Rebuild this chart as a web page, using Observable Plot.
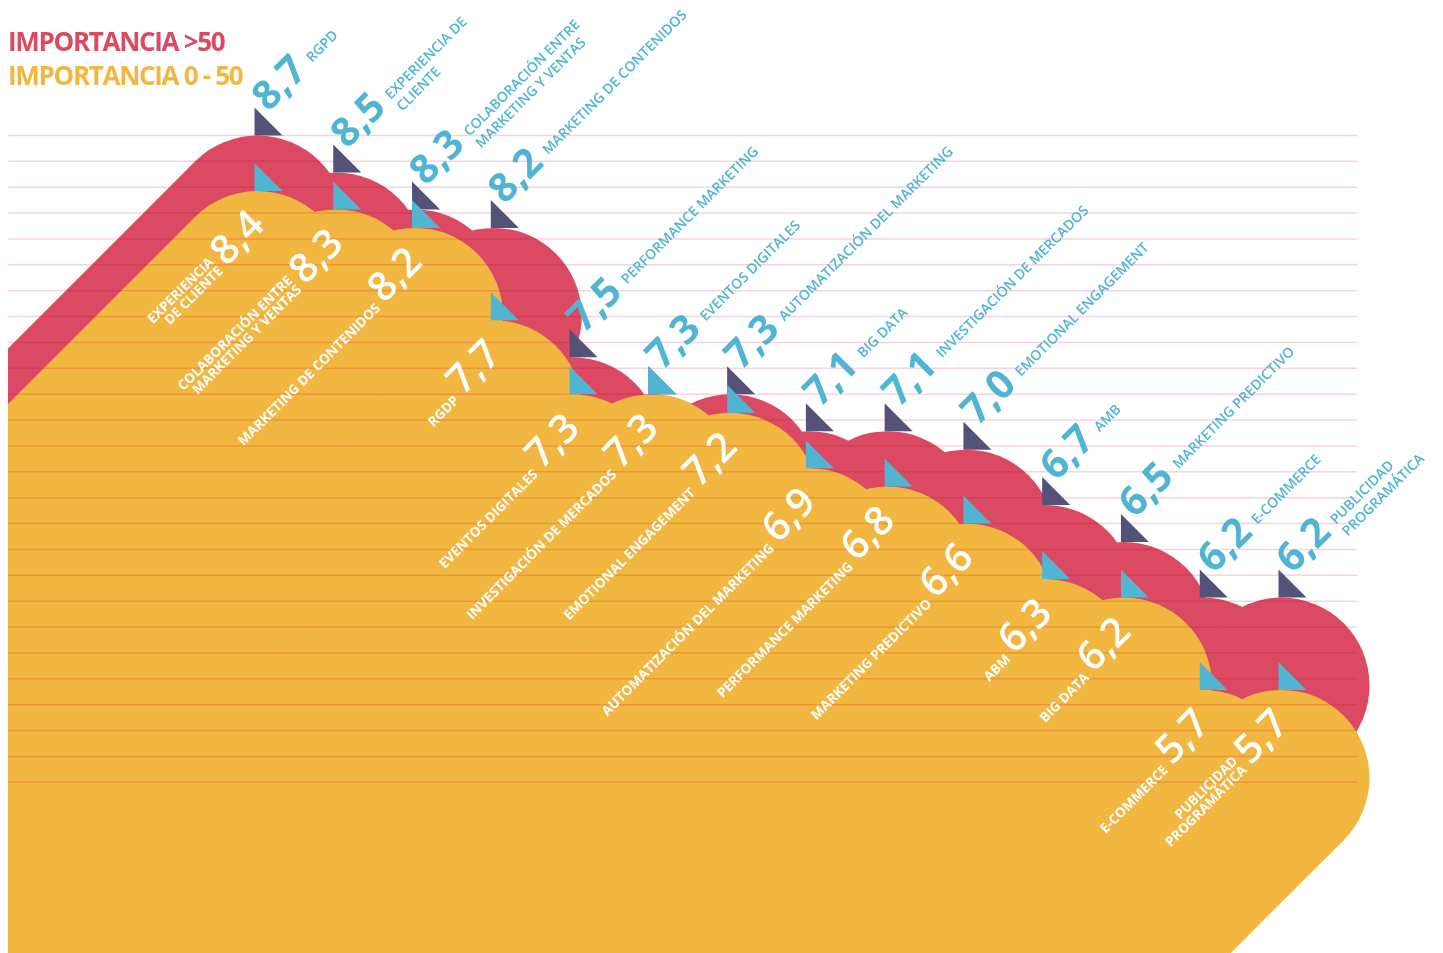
<!DOCTYPE html>
<html><head><meta charset="utf-8">
<script src="https://cdn.jsdelivr.net/npm/d3@7"></script>
<script src="https://cdn.jsdelivr.net/npm/@observablehq/plot@0.6"></script>
<style>
body{margin:0;background:#fff;font-family:"Open Sans",sans-serif;}
#wrap{position:relative;width:1443px;height:953px;overflow:hidden;}
#legend{position:absolute;z-index:2;left:8px;top:24px;font-weight:700;font-size:26px;letter-spacing:-1.3px;line-height:34px;}
#chart svg{display:block;}
</style></head><body>
<div id="wrap">
  <div id="legend"><div style="color:#db4a62">IMPORTANCIA &gt;50</div><div style="color:#f2b740">IMPORTANCIA 0 - 50</div></div>
  <div id="chart"></div>
</div>
<script>
// ---- data ----
const highCategories = ["RGPD","EXPERIENCIA DE\nCLIENTE","COLABORACIÓN ENTRE\nMARKETING Y VENTAS","MARKETING DE CONTENIDOS","PERFORMANCE MARKETING","EVENTOS DIGITALES","AUTOMATIZACIÓN DEL MARKETING","BIG DATA","INVESTIGACIÓN DE MERCADOS","EMOTIONAL ENGAGEMENT","AMB","MARKETING PREDICTIVO","E-COMMERCE","PUBLICIDAD\nPROGRAMÁTICA"];
const highValues = [8.7,8.5,8.3,8.2,7.5,7.3,7.3,7.1,7.1,7.0,6.7,6.5,6.2,6.2];
const lowCategories = ["EXPERIENCIA\nDE CLIENTE","COLABORACIÓN ENTRE\nMARKETING Y VENTAS","MARKETING DE CONTENIDOS","RGDP","EVENTOS DIGITALES","INVESTIGACIÓN DE MERCADOS","EMOTIONAL ENGAGEMENT","AUTOMATIZACIÓN DEL MARKETING","PERFORMANCE MARKETING","MARKETING PREDICTIVO","ABM","BIG DATA","E-COMMERCE","PUBLICIDAD\nPROGRAMÁTICA"];
const lowValues = [8.4,8.3,8.2,7.7,7.3,7.3,7.2,6.9,6.8,6.6,6.3,6.2,5.7,5.7];
const gridValues = [8.7,8.56,8.42,8.28,8.14,8.0,7.86,7.72,7.58,7.44,7.3,7.16,7.02,6.88,6.74,6.6,6.46,6.32,6.18,6.04,5.9,5.76,5.62,5.48,5.34,5.2];

// ---- styles / layout ----
const RED = "#db4a62", YELLOW = "#f2b740", NAVY = "#55527a", BLUE = "#4fb5d3", GRID = "#f6d3de";
const FONT = "'Open Sans', sans-serif";
const X_DOMAIN = [0, highValues.length - 1], X_RANGE = [257, 1281];
const Y_DOMAIN = [8.7, 6.2], Y_RANGE = [135, 597];
const R = 88; // bump radius (px)
const pxX = (X_RANGE[1] - X_RANGE[0]) / (X_DOMAIN[1] - X_DOMAIN[0]);
const pxY = (Y_RANGE[1] - Y_RANGE[0]) / (Y_DOMAIN[0] - Y_DOMAIN[1]);
const SWEEP = 1700; // px, down-left extrusion
const DI = SWEEP / pxX, DV = SWEEP / pxY;

const high = highValues.map((v, i) => ({i, v, name: highCategories[i]}));
const low = lowValues.map((v, i) => ({i, v, name: lowCategories[i]}));
const fmt = v => v.toFixed(1).replace(".", ",");

const corner = {draw(ctx, size) {
  const s = Math.sqrt(size / Math.PI) * 2;
  ctx.moveTo(0, -s); ctx.lineTo(s, 0); ctx.lineTo(0, 0); ctx.closePath();
}};

function shape(data, fill) {
  return [
    Plot.link(data, {x1: "i", y1: "v", x2: d => d.i - DI, y2: d => d.v - DV, dy: R,
      stroke: fill, strokeWidth: 2 * R, strokeLinecap: "butt", clip: true}),
    Plot.dot(data, {x: "i", y: "v", r: R, dy: R, fill, clip: true})
  ];
}

const chart = Plot.plot({
  width: 1443, height: 953,
  marginLeft: 8, marginRight: 0, marginTop: 0, marginBottom: 0,
  x: {domain: X_DOMAIN, range: X_RANGE, axis: null},
  y: {domain: Y_DOMAIN, range: Y_RANGE, axis: null},
  style: {background: "transparent", fontFamily: FONT},
  marks: [
    ...shape(high, RED),
    ...shape(low, YELLOW),
    Plot.ruleY(gridValues, {stroke: GRID, strokeWidth: 1.5, insetRight: 86, mixBlendMode: "multiply"}),
    Plot.dot(high, {x: "i", y: "v", r: 14, dx: -3, symbol: corner, fill: NAVY}),
    Plot.dot(low, {x: "i", y: "v", r: 14, dx: -3, symbol: corner, fill: BLUE}),
    Plot.text(high, {x: "i", y: "v", text: d => fmt(d.v), rotate: -45, textAnchor: "start", lineAnchor: "bottom",
      dx: 11, dy: -23, fill: BLUE, fontSize: 40, fontWeight: 700, fontFamily: FONT}),
    Plot.text(high, {x: "i", y: "v", text: "name", rotate: -45, textAnchor: "start", lineAnchor: "top", lineHeight: 1.2,
      dx: 46, dy: -81, fill: BLUE, fontSize: 14, fontWeight: 600, fontFamily: FONT}),
    Plot.text(low, {x: "i", y: "v", text: d => fmt(d.v), rotate: -45, textAnchor: "start", lineAnchor: "bottom",
      dx: -31, dy: 76, fill: "white", fontSize: 40, fontWeight: 600, fontFamily: FONT}),
    Plot.text(low, {x: "i", y: "v", text: "name", rotate: -45, textAnchor: "end", lineAnchor: "bottom", lineHeight: 0.95,
      dx: -34, dy: 81, fill: "white", fontSize: 13.5, fontWeight: 700, fontFamily: FONT})
  ]
});
document.getElementById("chart").append(chart);
</script>
</body></html>
